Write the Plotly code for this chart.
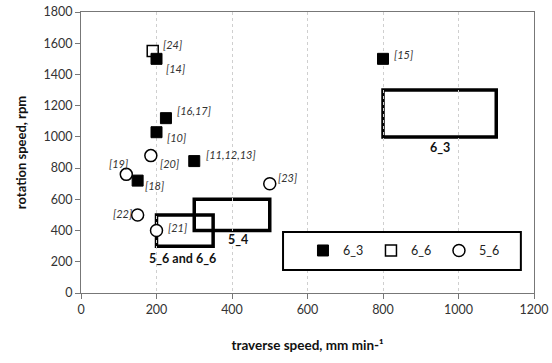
import plotly.graph_objects as go

# Literature points: traverse speed (mm/min), rotation speed (rpm), citation
tool_63_speed = [200, 800, 225, 200, 300, 150]
tool_63_rpm = [1500, 1500, 1120, 1030, 845, 720]
tool_63_refs = ["[14]", "[15]", "[16,17]", "[10]", "[11,12,13]", "[18]"]

tool_66_speed = [190]
tool_66_rpm = [1550]
tool_66_refs = ["[24]"]

tool_56_speed = [185, 120, 500, 150, 200]
tool_56_rpm = [880, 760, 700, 500, 400]
tool_56_refs = ["[20]", "[19]", "[23]", "[22]", "[21]"]

# Process windows found in this work: (name, speed min, speed max, rpm min, rpm max)
window_names = ["6_3", "5_4", "5_6 and 6_6"]
window_speed_lo = [800, 300, 200]
window_speed_hi = [1100, 500, 350]
window_rpm_lo = [1000, 400, 300]
window_rpm_hi = [1300, 600, 500]

FONT = "Lato, 'Open Sans', sans-serif"

fig = go.Figure()

fig.add_trace(go.Scatter(
    x=tool_63_speed, y=tool_63_rpm, mode="markers", name="6_3",
    marker=dict(symbol="square", size=11, color="black",
                line=dict(color="black", width=1)),
))
fig.add_trace(go.Scatter(
    x=tool_66_speed, y=tool_66_rpm, mode="markers", name="6_6",
    marker=dict(symbol="square-open", size=11, color="black",
                line=dict(color="black", width=1.5)),
))
fig.add_trace(go.Scatter(
    x=tool_56_speed, y=tool_56_rpm, mode="markers", name="5_6",
    marker=dict(symbol="circle", size=12, color="white",
                line=dict(color="black", width=1.5)),
))

# Window rectangles
for lo_x, hi_x, lo_y, hi_y in zip(window_speed_lo, window_speed_hi,
                                  window_rpm_lo, window_rpm_hi):
    fig.add_shape(type="rect", xref="x", yref="y",
                  x0=lo_x, x1=hi_x, y0=lo_y, y1=hi_y,
                  line=dict(color="black", width=3.5), layer="below")

# Window labels, placed under each rectangle
label_offsets = {"6_3": (0, -71), "5_4": (16, -60), "5_6 and 6_6": (-5, -76)}
for name, lo_x, hi_x, lo_y in zip(window_names, window_speed_lo,
                                  window_speed_hi, window_rpm_lo):
    dx, dy = label_offsets[name]
    fig.add_annotation(x=(lo_x + hi_x) / 2 + dx, y=lo_y + dy, text=f"<b>{name}</b>",
                       showarrow=False, xanchor="center", yanchor="middle",
                       font=dict(family=FONT, size=12.5, color="#111"))

# Citation labels next to each point (pixel offsets)
ref_shift = {
    "[24]": (20, 7), "[14]": (19, -10), "[15]": (20, 4), "[16,17]": (28, 8),
    "[10]": (20, -5), "[11,12,13]": (37, 7), "[20]": (19, -8), "[19]": (-8, 11),
    "[18]": (17, -5), "[23]": (18, 6), "[22]": (-15, 1), "[21]": (21, 3),
}
for xs, ys, refs in [(tool_63_speed, tool_63_rpm, tool_63_refs),
                     (tool_66_speed, tool_66_rpm, tool_66_refs),
                     (tool_56_speed, tool_56_rpm, tool_56_refs)]:
    for xv, yv, r in zip(xs, ys, refs):
        sx, sy = ref_shift[r]
        fig.add_annotation(x=xv, y=yv, text=f"<i>{r}</i>", showarrow=False,
                           xanchor="center", yanchor="middle",
                           xshift=sx, yshift=sy,
                           font=dict(family=FONT, size=11, color="#333"))

# Framed legend area
fig.add_shape(type="rect", xref="paper", yref="paper",
              x0=0.446, x1=0.971, y0=0.082, y1=0.217,
              line=dict(color="black", width=2), fillcolor="white", layer="above")

fig.update_layout(
    width=552, height=363,
    margin=dict(l=81, r=18, t=12, b=70, autoexpand=False),
    paper_bgcolor="white", plot_bgcolor="white",
    font=dict(family=FONT, size=12, color="#333"),
    showlegend=True,
    legend=dict(orientation="h", x=0.49, y=0.15, xanchor="left", yanchor="middle",
                bgcolor="rgba(0,0,0,0)", borderwidth=0,
                entrywidth=23, entrywidthmode="pixels", itemwidth=30,
                font=dict(family=FONT, size=12.5, color="#222"),
                itemsizing="trace"),
    xaxis=dict(range=[0, 1200], dtick=200, showgrid=True, gridcolor="#cfcfcf",
               griddash="3px,3px", gridwidth=1, zeroline=False,
               showline=True, linecolor="#777", linewidth=1.2, mirror=True,
               ticks="outside", ticklen=5, tickcolor="#777",
               tickfont=dict(family=FONT, size=12.5, color="#333"),
               title=dict(text="<b>traverse speed, mm min-¹</b>",
                          font=dict(family=FONT, size=13.5, color="#111"), standoff=24)),
    yaxis=dict(range=[0, 1800], dtick=200, showgrid=False, zeroline=False,
               showline=True, linecolor="#777", linewidth=1.2, mirror=True,
               ticks="outside", ticklen=5, tickcolor="#777",
               tickfont=dict(family=FONT, size=12.5, color="#333"),
               title=dict(text="<b>rotation speed, rpm</b>",
                          font=dict(family=FONT, size=13, color="#111"), standoff=13)),
)

fig.write_html("out.html")
